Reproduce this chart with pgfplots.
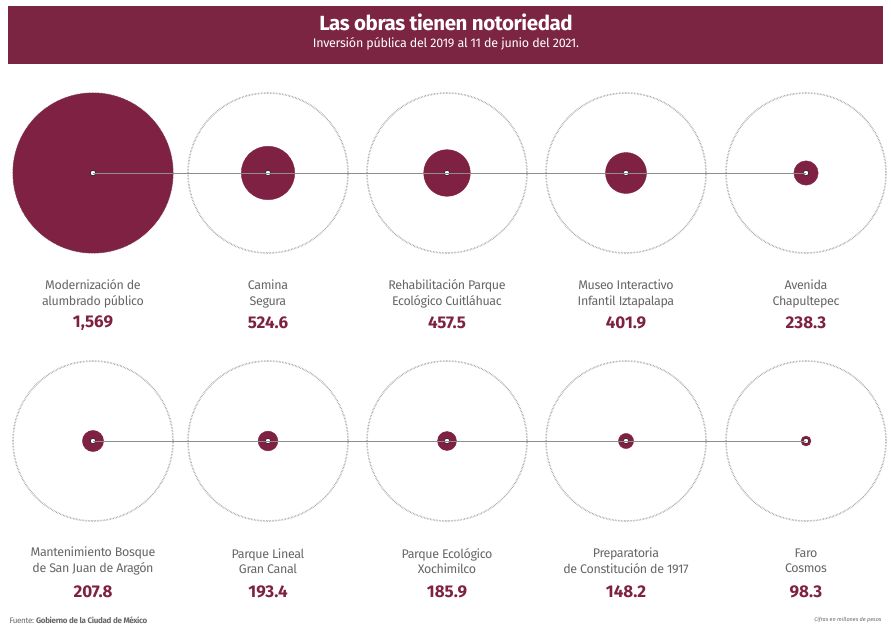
\documentclass[border=0pt]{standalone}
\usepackage{pgfplots}
\pgfplotsset{compat=1.18}
\usepackage{pgfplotstable}
\usepackage{fontspec}
\setmainfont{Fira Sans}
\definecolor{maroon}{HTML}{7E2142}
\definecolor{band}{HTML}{7B2543}
\definecolor{labgray}{HTML}{666666}
\definecolor{ring}{HTML}{9C9C9C}
\pgfplotstableread{
x y v
93 173 1569
268 173 524.6
447 173 457.5
626 173 401.9
806 173 238.3
93 441 207.8
268 441 193.4
447 441 185.9
626 441 148.2
806 441 98.3
}\obras
\begin{document}
\begin{tikzpicture}
\begin{axis}[width=891pt,height=627pt,scale only axis,set layers,
  xmin=0,xmax=891,ymin=0,ymax=627,y dir=reverse,hide axis,clip=false]
\path (axis cs:0,0) rectangle (axis cs:891,627);
% title band
\fill[band] (axis cs:8,6) rectangle (axis cs:883,64);
\node[white,font=\bfseries\fontsize{20.5}{21}\selectfont\addfontfeature{LetterSpace=-2}] at (axis cs:446,22) {Las obras tienen notoriedad};
\node[white,font=\fontsize{12.5}{13}\selectfont\addfontfeature{LetterSpace=-2}] at (axis cs:446,44) {Inversión pública del 2019 al 11 de junio del 2021.};
% outer dotted circles
\addplot[only marks, mark=o, mark size=80, mark options={draw=ring, line width=1.6pt, dash pattern=on 0.5pt off 1.0pt}] table[x=x,y=y] {\obras};
% filled circles (radius proportional to value)
\addplot[only marks, mark=*, scatter, point meta=\thisrow{v},
  scatter/use mapped color={draw=maroon,fill=maroon},
  visualization depends on={\thisrow{v}*80/1569 \as \rad},
  scatter/@pre marker code/.append style={/tikz/mark size=\rad}] table[x=x,y=y] {\obras};
% connecting lines
\addplot[on layer=axis foreground, ring!90!black, line width=0.9pt] coordinates {(93,173) (806,173)};
\addplot[on layer=axis foreground, ring!90!black, line width=0.9pt] coordinates {(93,441) (806,441)};
% centre dots
\addplot[on layer=axis foreground, only marks, mark=*, mark size=2.6, mark options={fill=white, draw=none}] table[x=x,y=y] {\obras};
% labels
\tikzset{lab/.style={labgray,align=center,font=\fontsize{12.5}{15.5}\selectfont\addfontfeature{LetterSpace=-3}},
         num/.style={maroon,font=\bfseries\fontsize{17}{18}\selectfont}}
\node[lab] at (axis cs:93,294) {Modernización de\\alumbrado público};
\node[lab] at (axis cs:268,294) {Camina\\Segura};
\node[lab] at (axis cs:447,294) {Rehabilitación Parque\\Ecológico Cuitláhuac};
\node[lab] at (axis cs:626,294) {Museo Interactivo\\Infantil Iztapalapa};
\node[lab] at (axis cs:806,294) {Avenida\\Chapultepec};
\node[num] at (axis cs:93,323) {1,569};
\node[num] at (axis cs:268,323) {524.6};
\node[num] at (axis cs:447,323) {457.5};
\node[num] at (axis cs:626,323) {401.9};
\node[num] at (axis cs:806,323) {238.3};
\node[lab] at (axis cs:93,561) {Mantenimiento Bosque\\de San Juan de Aragón};
\node[lab] at (axis cs:268,561) {Parque Lineal\\Gran Canal};
\node[lab] at (axis cs:447,561) {Parque Ecológico\\Xochimilco};
\node[lab] at (axis cs:626,561) {Preparatoria\\de Constitución de 1917};
\node[lab] at (axis cs:806,561) {Faro\\Cosmos};
\node[num] at (axis cs:93,592) {207.8};
\node[num] at (axis cs:268,592) {193.4};
\node[num] at (axis cs:447,592) {185.9};
\node[num] at (axis cs:626,592) {148.2};
\node[num] at (axis cs:806,592) {98.3};
% footer
\node[anchor=west,labgray,font=\fontsize{8}{9}\selectfont\addfontfeature{LetterSpace=-4}] at (axis cs:6,620) {Fuente: \textbf{Gobierno de la Ciudad de México}};
\node[anchor=east,labgray,font=\itshape\fontsize{5.5}{6}\selectfont] at (axis cs:885,620) {Cifras en millones de pesos};
\end{axis}
\end{tikzpicture}
\end{document}
